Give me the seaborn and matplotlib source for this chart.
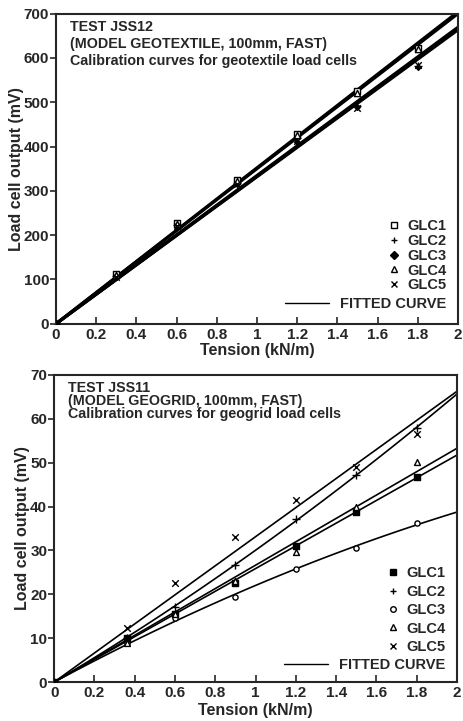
import numpy as np
import pandas as pd
import matplotlib
matplotlib.use('Agg')
import matplotlib.pyplot as plt
from matplotlib.lines import Line2D
import seaborn as sns

# Data
CELLS = ['GLC1', 'GLC2', 'GLC3', 'GLC4', 'GLC5']

# JSS12 - geotextile load cells
TENSION_TOP = [0, 0.3, 0.6, 0.9, 1.2, 1.5, 1.8]
OUTPUT_TOP = {
    'GLC1': [0, 112, 228, 325, 428, 525, 622],
    'GLC2': [0, 108, 222, 318, 420, 492, 582],
    'GLC3': [0, 105, 218, 315, 410, 490, 580],
    'GLC4': [0, 110, 225, 322, 425, 522, 620],
    'GLC5': [0, 106, 220, 316, 412, 488, 585],
}

# JSS11 - geogrid load cells
TENSION_BOT = [0, 0.36, 0.6, 0.9, 1.2, 1.5, 1.8]
OUTPUT_BOT = {
    'GLC1': [0, 10.0, 15.5, 22.6, 31.0, 38.8, 46.8],
    'GLC2': [0, 10.0, 17.1, 26.7, 37.2, 47.2, 57.9],
    'GLC3': [0, 9.0, 14.7, 19.4, 25.7, 30.5, 36.3],
    'GLC4': [0, 9.0, 15.5, 23.0, 29.7, 40.0, 50.2],
    'GLC5': [0, 12.3, 22.6, 33.0, 41.5, 49.0, 56.5],
}

# polynomial order of each fitted curve (fits pass through the origin)
FIT_TOP = {'GLC1': 1, 'GLC2': 1, 'GLC3': 1, 'GLC4': 1, 'GLC5': 1}
FIT_BOT = {'GLC1': 1, 'GLC2': 2, 'GLC3': 2, 'GLC4': 1, 'GLC5': 1}

XTICKS = [0, 0.2, 0.4, 0.6, 0.8, 1, 1.2, 1.4, 1.6, 1.8, 2]
XTICKLABELS = ['0', '0.2', '0.4', '0.6', '0.8', '1', '1.2', '1.4', '1.6', '1.8', '2']
YTICKS_TOP = [0, 100, 200, 300, 400, 500, 600, 700]
YTICKS_BOT = [0, 10, 20, 30, 40, 50, 60, 70]

TEXT_TOP = 'TEST JSS12\n(MODEL GEOTEXTILE, 100mm, FAST)\nCalibration curves for geotextile load cells'
TEXT_BOT = 'TEST JSS11\n(MODEL GEOGRID, 100mm, FAST)\nCalibration curves for geogrid load cells'

# marker styles: (marker, filled, size)
MARK_TOP = {'GLC1': ('s', False, 20), 'GLC2': ('+', True, 30), 'GLC3': ('D', True, 8),
            'GLC4': ('^', False, 20), 'GLC5': ('x', True, 22)}
MARK_BOT = {'GLC1': ('s', True, 22), 'GLC2': ('+', True, 30), 'GLC3': ('o', False, 14),
            'GLC4': ('^', False, 18), 'GLC5': ('x', True, 22)}

sns.set_style('ticks')
plt.rcParams['font.family'] = ['Liberation Sans', 'DejaVu Sans']
plt.rcParams['font.weight'] = 'bold'
plt.rcParams['axes.labelweight'] = 'bold'


def fit_curve(x, y, order, xmax):
    # least squares polynomial with no constant term
    x = np.asarray(x, float)
    A = np.column_stack([x ** k for k in range(1, order + 1)])
    coef = np.linalg.lstsq(A, np.asarray(y, float), rcond=None)[0]
    xs = np.linspace(0, xmax, 60)
    ys = sum(c * xs ** (k + 1) for k, c in enumerate(coef))
    return xs, ys


def draw(ax, tension, outputs, marks, fits, yticks, ymax, text, text_ls, fit_lw,
         lab_space, leg_y, xlab_pad):
    for name in CELLS:
        m, filled, s = marks[name]
        ys = outputs[name]
        fx, fy = fit_curve(tension, ys, fits[name], 2)
        sns.lineplot(x=fx, y=fy, color='black', lw=fit_lw, ax=ax)
        if m in ('+', 'x'):
            sns.scatterplot(x=tension, y=ys, marker=m, s=s, color='black', linewidth=1, ax=ax, zorder=4)
        else:
            sns.scatterplot(x=tension, y=ys, marker=m, s=s,
                            facecolor='black' if filled else 'white',
                            edgecolor='black', linewidth=1, ax=ax, zorder=4)
    ax.set_xlim(0, 2)
    ax.set_ylim(0, ymax)
    ax.set_xticks(XTICKS)
    ax.set_xticklabels(XTICKLABELS)
    ax.set_yticks(yticks)
    ax.tick_params(axis='x', direction='in', length=5, width=1.2, labelsize=11, pad=3)
    ax.tick_params(axis='y', direction='out', length=4, width=1.2, labelsize=11, pad=1)
    for t in ax.get_xticklabels() + ax.get_yticklabels():
        t.set_fontweight('bold')
    for sp in ax.spines.values():
        sp.set_visible(True)
        sp.set_linewidth(1.5)
    ax.set_xlabel('Tension (kN/m)', fontsize=11.5, fontweight='bold', labelpad=xlab_pad)
    ax.set_ylabel('Load cell output (mV)', fontsize=11.5, fontweight='bold', labelpad=0)
    ax.text(0.035, 0.98, text, transform=ax.transAxes, ha='left', va='top',
            fontsize=10.3, fontweight='bold', linespacing=text_ls)

    handles = []
    for name in CELLS:
        m, filled, s = marks[name]
        handles.append(Line2D([], [], ls='none', marker=m, color='black',
                              markerfacecolor=('black' if filled else 'white'),
                              markersize=4, markeredgewidth=1))
    leg1 = ax.legend(handles, CELLS, loc='lower right', bbox_to_anchor=(0.99, leg_y + 0.06),
                     frameon=False, handlelength=0.8, handletextpad=0.5,
                     labelspacing=lab_space, borderpad=0, prop=dict(size=10.5, weight='bold'))
    ax.add_artist(leg1)
    ax.legend([Line2D([], [], color='black', lw=1)], ['FITTED CURVE'], loc='lower right',
              bbox_to_anchor=(0.99, leg_y), frameon=False, handlelength=3, handletextpad=0.8,
              borderpad=0, prop=dict(size=10.5, weight='bold'))


fig = plt.figure(figsize=(4.63, 7.21), dpi=100)
ax1 = fig.add_axes([0.121, 0.551, 0.868, 0.430])
ax2 = fig.add_axes([0.117, 0.054, 0.870, 0.426])

draw(ax1, TENSION_TOP, OUTPUT_TOP, MARK_TOP, FIT_TOP, YTICKS_TOP, 700, TEXT_TOP, 1.3, 2.2,
     0.05, 0.018, 0.5)
draw(ax2, TENSION_BOT, OUTPUT_BOT, MARK_BOT, FIT_BOT, YTICKS_BOT, 70, TEXT_BOT, 0.9, 1.2,
     0.3, 0.008, 2)

fig.savefig('out.png', dpi=100)
